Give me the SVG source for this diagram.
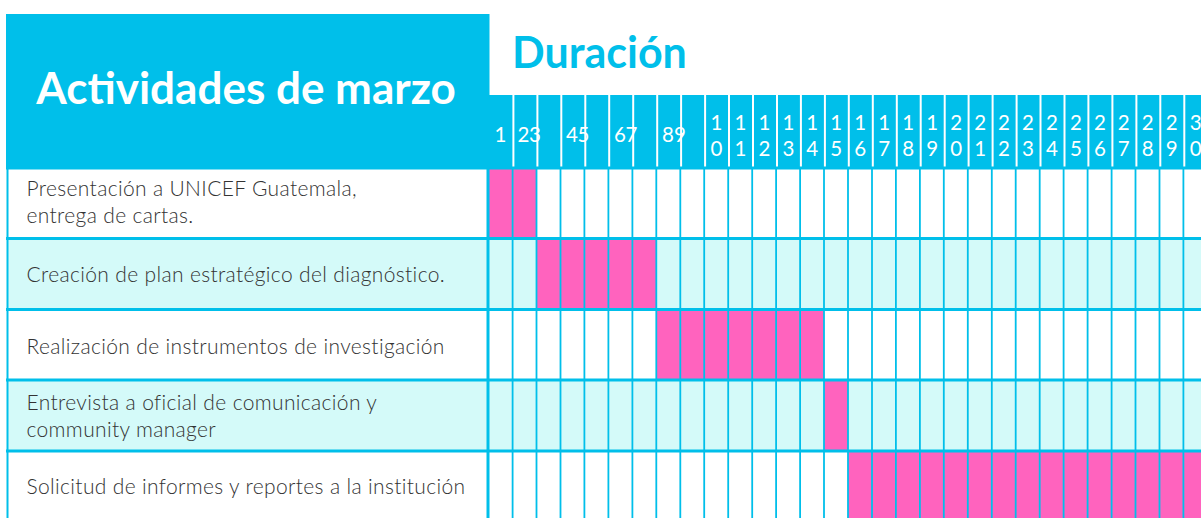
<svg xmlns="http://www.w3.org/2000/svg" width="1201" height="518" viewBox="0 0 1201 518">
<style>
.cy{fill:#00BFEA}
.pk{fill:#FF63BE}
.lt{fill:#D4FAF9}
.wh{fill:#FFFFFF}
.act{font-family:Lato,"Open Sans",sans-serif;font-weight:300;font-size:21px;letter-spacing:0.35px;fill:#333333}
.day{font-family:Lato,"Open Sans",sans-serif;font-weight:400;font-size:20.5px;fill:#FFFFFF;text-anchor:middle}
.hl{stroke:#00BFEA;stroke-width:3}
.vl{stroke:#00BFEA;stroke-width:1.8}
.hw{stroke:#FFFFFF;stroke-width:2}
</style>
<rect width="1201" height="518" fill="#FFFFFF"/>
<g id="header">
<rect class="cy" x="6" y="14" width="483" height="155"/>
<text x="246" y="104" font-family="Lato,'Open Sans',sans-serif" font-weight="700" font-size="44" fill="#FFFFFF" text-anchor="middle">Actividades de marzo</text>
<text x="512" y="68" font-family="Lato,'Open Sans',sans-serif" font-weight="700" font-size="43" fill="#00BFEA">Duración</text>
<rect class="cy" x="489" y="95" width="712" height="74"/>
<g>
<line class="hw" x1="513.4" y1="95" x2="513.4" y2="167"/>
<line class="hw" x1="537.4" y1="95" x2="537.4" y2="167"/>
<line class="hw" x1="561.3" y1="95" x2="561.3" y2="167"/>
<line class="hw" x1="585.3" y1="95" x2="585.3" y2="167"/>
<line class="hw" x1="609.2" y1="95" x2="609.2" y2="167"/>
<line class="hw" x1="633.2" y1="95" x2="633.2" y2="167"/>
<line class="hw" x1="657.2" y1="95" x2="657.2" y2="167"/>
<line class="hw" x1="681.1" y1="95" x2="681.1" y2="167"/>
<line class="hw" x1="705.1" y1="95" x2="705.1" y2="167"/>
<line class="hw" x1="729.0" y1="95" x2="729.0" y2="167"/>
<line class="hw" x1="753.0" y1="95" x2="753.0" y2="167"/>
<line class="hw" x1="777.0" y1="95" x2="777.0" y2="167"/>
<line class="hw" x1="800.9" y1="95" x2="800.9" y2="167"/>
<line class="hw" x1="824.9" y1="95" x2="824.9" y2="167"/>
<line class="hw" x1="848.8" y1="95" x2="848.8" y2="167"/>
<line class="hw" x1="872.8" y1="95" x2="872.8" y2="167"/>
<line class="hw" x1="896.8" y1="95" x2="896.8" y2="167"/>
<line class="hw" x1="920.7" y1="95" x2="920.7" y2="167"/>
<line class="hw" x1="944.7" y1="95" x2="944.7" y2="167"/>
<line class="hw" x1="968.6" y1="95" x2="968.6" y2="167"/>
<line class="hw" x1="992.6" y1="95" x2="992.6" y2="167"/>
<line class="hw" x1="1016.6" y1="95" x2="1016.6" y2="167"/>
<line class="hw" x1="1040.5" y1="95" x2="1040.5" y2="167"/>
<line class="hw" x1="1064.5" y1="95" x2="1064.5" y2="167"/>
<line class="hw" x1="1088.4" y1="95" x2="1088.4" y2="167"/>
<line class="hw" x1="1112.4" y1="95" x2="1112.4" y2="167"/>
<line class="hw" x1="1136.4" y1="95" x2="1136.4" y2="167"/>
<line class="hw" x1="1160.3" y1="95" x2="1160.3" y2="167"/>
<line class="hw" x1="1184.3" y1="95" x2="1184.3" y2="167"/>
</g>
<g class="day">
<text x="500.5" y="142">1</text>
<text x="523.5" y="142">2</text>
<text x="535" y="142">3</text>
<text x="572" y="142">4</text>
<text x="583.5" y="142">5</text>
<text x="620" y="142">6</text>
<text x="631.5" y="142">7</text>
<text x="668" y="142">8</text>
<text x="680" y="142">9</text>
<text x="716.5" y="130">1</text><text x="716.5" y="156">0</text>
<text x="740.5" y="130">1</text><text x="740.5" y="156">1</text>
<text x="764.4" y="130">1</text><text x="764.4" y="156">2</text>
<text x="788.4" y="130">1</text><text x="788.4" y="156">3</text>
<text x="812.3" y="130">1</text><text x="812.3" y="156">4</text>
<text x="836.3" y="130">1</text><text x="836.3" y="156">5</text>
<text x="860.3" y="130">1</text><text x="860.3" y="156">6</text>
<text x="884.2" y="130">1</text><text x="884.2" y="156">7</text>
<text x="908.2" y="130">1</text><text x="908.2" y="156">8</text>
<text x="932.1" y="130">1</text><text x="932.1" y="156">9</text>
<text x="956.1" y="130">2</text><text x="956.1" y="156">0</text>
<text x="980.1" y="130">2</text><text x="980.1" y="156">1</text>
<text x="1004.0" y="130">2</text><text x="1004.0" y="156">2</text>
<text x="1028.0" y="130">2</text><text x="1028.0" y="156">3</text>
<text x="1051.9" y="130">2</text><text x="1051.9" y="156">4</text>
<text x="1075.9" y="130">2</text><text x="1075.9" y="156">5</text>
<text x="1099.9" y="130">2</text><text x="1099.9" y="156">6</text>
<text x="1123.8" y="130">2</text><text x="1123.8" y="156">7</text>
<text x="1147.8" y="130">2</text><text x="1147.8" y="156">8</text>
<text x="1171.7" y="130">2</text><text x="1171.7" y="156">9</text>
<text x="1195.7" y="130">3</text><text x="1195.7" y="156">0</text>
</g>
</g>
<g id="row1">
<rect class="wh" x="7" y="168" width="1194" height="71"/>
<rect class="pk" x="488.6" y="168" width="47.9" height="71"/>
<text class="act" x="26.5" y="196">Presentación a UNICEF Guatemala,</text>
<text class="act" x="26.5" y="223">entrega de cartas.</text>
</g>
<g id="row2">
<rect class="lt" x="7" y="238.5" width="1194" height="71"/>
<rect class="pk" x="536.5" y="238.5" width="119.8" height="71"/>
<text class="act" x="26.5" y="282">Creación de plan estratégico del diagnóstico.</text>
</g>
<g id="row3">
<rect class="wh" x="7" y="309.5" width="1194" height="71"/>
<rect class="pk" x="656.3" y="309.5" width="167.7" height="71"/>
<text class="act" x="26.5" y="354">Realización de instrumentos de investigación</text>
</g>
<g id="row4">
<rect class="lt" x="7" y="380" width="1194" height="71"/>
<rect class="pk" x="824" y="380" width="24" height="71"/>
<text class="act" x="26.5" y="410">Entrevista a oficial de comunicación y</text>
<text class="act" x="26.5" y="437">community manager</text>
</g>
<g id="row5">
<rect class="wh" x="7" y="451" width="1194" height="67"/>
<rect class="pk" x="848" y="451" width="353" height="67"/>
<text class="act" x="26.5" y="494">Solicitud de informes y reportes a la institución</text>
</g>
<g id="connectors">
<line class="hl" x1="6" y1="168" x2="1201" y2="168"/>
<line class="hl" x1="6" y1="238.5" x2="1201" y2="238.5"/>
<line class="hl" x1="6" y1="309.5" x2="1201" y2="309.5"/>
<line class="hl" x1="6" y1="380" x2="1201" y2="380"/>
<line class="hl" x1="6" y1="451" x2="1201" y2="451"/>
<line x1="7.5" y1="14" x2="7.5" y2="518" stroke="#00BFEA" stroke-width="2"/>
<line x1="488" y1="14" x2="488" y2="518" stroke="#00BFEA" stroke-width="3"/>
<line class="vl" x1="512.6" y1="168" x2="512.6" y2="518"/>
<line class="vl" x1="536.5" y1="168" x2="536.5" y2="518"/>
<line class="vl" x1="560.5" y1="168" x2="560.5" y2="518"/>
<line class="vl" x1="584.4" y1="168" x2="584.4" y2="518"/>
<line class="vl" x1="608.4" y1="168" x2="608.4" y2="518"/>
<line class="vl" x1="632.4" y1="168" x2="632.4" y2="518"/>
<line class="vl" x1="656.3" y1="168" x2="656.3" y2="518"/>
<line class="vl" x1="680.3" y1="168" x2="680.3" y2="518"/>
<line class="vl" x1="704.2" y1="168" x2="704.2" y2="518"/>
<line class="vl" x1="728.2" y1="168" x2="728.2" y2="518"/>
<line class="vl" x1="752.2" y1="168" x2="752.2" y2="518"/>
<line class="vl" x1="776.1" y1="168" x2="776.1" y2="518"/>
<line class="vl" x1="800.1" y1="168" x2="800.1" y2="518"/>
<line class="vl" x1="824.0" y1="168" x2="824.0" y2="518"/>
<line class="vl" x1="848.0" y1="168" x2="848.0" y2="518"/>
<line class="vl" x1="872.0" y1="168" x2="872.0" y2="518"/>
<line class="vl" x1="895.9" y1="168" x2="895.9" y2="518"/>
<line class="vl" x1="919.9" y1="168" x2="919.9" y2="518"/>
<line class="vl" x1="943.8" y1="168" x2="943.8" y2="518"/>
<line class="vl" x1="967.8" y1="168" x2="967.8" y2="518"/>
<line class="vl" x1="991.8" y1="168" x2="991.8" y2="518"/>
<line class="vl" x1="1015.7" y1="168" x2="1015.7" y2="518"/>
<line class="vl" x1="1039.7" y1="168" x2="1039.7" y2="518"/>
<line class="vl" x1="1063.6" y1="168" x2="1063.6" y2="518"/>
<line class="vl" x1="1087.6" y1="168" x2="1087.6" y2="518"/>
<line class="vl" x1="1111.6" y1="168" x2="1111.6" y2="518"/>
<line class="vl" x1="1135.5" y1="168" x2="1135.5" y2="518"/>
<line class="vl" x1="1159.5" y1="168" x2="1159.5" y2="518"/>
<line class="vl" x1="1183.4" y1="168" x2="1183.4" y2="518"/>
</g>
</svg>
